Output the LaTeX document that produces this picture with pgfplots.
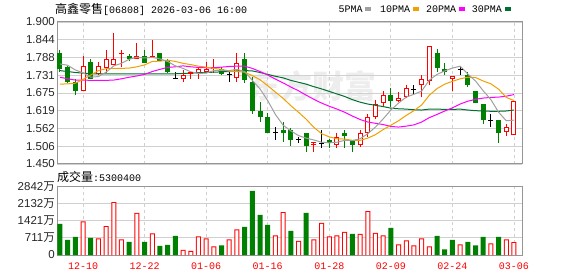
\documentclass[border=0pt]{standalone}
\usepackage{fontspec}
\setmainfont{Liberation Sans}
\newfontfamily\cjk{Noto Sans CJK SC}
\newfontfamily\mono{Liberation Mono}
\usepackage{pgfplots}
\pgfplotsset{compat=1.18}
\usepackage{pgfplotstable}
\definecolor{kred}{RGB}{255,0,0}
\definecolor{kgreen}{RGB}{0,128,0}
\definecolor{maA}{RGB}{160,160,160}
\definecolor{maB}{RGB}{240,160,0}
\definecolor{maC}{RGB}{255,0,255}
\definecolor{maD}{RGB}{0,112,48}
\definecolor{gridc}{RGB}{208,208,208}
\definecolor{framec}{RGB}{150,150,150}

% up candles (close > open), body taller than 2px
\pgfplotstableread{
i o h l c
3 1.682 1.792 1.682 1.760
5 1.734 1.772 1.732 1.760
6 1.753 1.811 1.739 1.782
7 1.763 1.866 1.763 1.783
10 1.784 1.832 1.784 1.792
16 1.720 1.748 1.711 1.731
18 1.737 1.758 1.720 1.750
19 1.743 1.772 1.739 1.751
20 1.750 1.782 1.739 1.758
23 1.721 1.801 1.711 1.771
36 1.510 1.547 1.500 1.537
39 1.510 1.558 1.505 1.547
40 1.549 1.608 1.537 1.598
41 1.600 1.653 1.592 1.640
42 1.642 1.682 1.630 1.669
44 1.651 1.679 1.648 1.659
45 1.661 1.700 1.658 1.690
47 1.701 1.732 1.661 1.718
48 1.714 1.824 1.700 1.824
51 1.719 1.730 1.682 1.730
58 1.550 1.577 1.539 1.566
59 1.541 1.650 1.541 1.650
}\up
% up candles with a very thin body
\pgfplotstableread{
i o h l c
8 1.799 1.811 1.758 1.801
12 1.790 1.843 1.788 1.792
17 1.737 1.743 1.720 1.739
33 1.513 1.517 1.487 1.517
}\upthin
% down candles
\pgfplotstableread{
i o h l c
0 1.801 1.811 1.742 1.752
1 1.758 1.762 1.706 1.711
2 1.710 1.718 1.670 1.682
4 1.773 1.783 1.718 1.720
9 1.792 1.798 1.775 1.784
11 1.792 1.811 1.769 1.771
13 1.801 1.801 1.775 1.777
14 1.775 1.782 1.739 1.743
21 1.750 1.758 1.732 1.735
24 1.782 1.801 1.706 1.716
25 1.709 1.725 1.608 1.619
26 1.619 1.648 1.584 1.600
27 1.598 1.611 1.547 1.549
29 1.558 1.584 1.521 1.549
30 1.558 1.563 1.507 1.526
32 1.547 1.549 1.487 1.507
35 1.526 1.528 1.500 1.518
37 1.547 1.558 1.500 1.539
38 1.524 1.526 1.489 1.510
43 1.669 1.690 1.630 1.651
49 1.803 1.813 1.743 1.753
50 1.750 1.771 1.732 1.743
53 1.732 1.743 1.695 1.700
54 1.682 1.682 1.642 1.642
55 1.640 1.640 1.577 1.589
57 1.589 1.589 1.518 1.549
}\down
% doji candles (open = close)
\pgfplotstableread{
i o h l c
15 1.720 1.743 1.718 1.720
22 1.734 1.743 1.711 1.734
28 1.549 1.568 1.526 1.549
31 1.529 1.537 1.518 1.529
34 1.516 1.558 1.500 1.516
46 1.687 1.699 1.672 1.687
52 1.748 1.761 1.732 1.748
56 1.589 1.608 1.568 1.589
}\doji
% moving averages
\pgfplotstableread{
i m5 m10 m20 m30
0 1.767 1.703 1.725 1.746
1 1.763 1.704 1.720 1.743
2 1.748 1.706 1.716 1.740
3 1.739 1.718 1.716 1.738
4 1.725 1.732 1.715 1.736
5 1.727 1.746 1.715 1.736
6 1.741 1.752 1.715 1.736
7 1.761 1.753 1.716 1.736
8 1.769 1.753 1.720 1.736
9 1.782 1.754 1.725 1.736
10 1.788 1.758 1.729 1.736
11 1.786 1.764 1.734 1.736
12 1.788 1.775 1.743 1.736
13 1.783 1.776 1.750 1.736
14 1.775 1.779 1.756 1.736
15 1.761 1.775 1.758 1.736
16 1.753 1.769 1.761 1.737
17 1.742 1.765 1.758 1.738
18 1.737 1.760 1.756 1.739
19 1.738 1.757 1.755 1.740
20 1.746 1.753 1.755 1.741
21 1.747 1.750 1.757 1.742
22 1.746 1.744 1.759 1.743
23 1.750 1.743 1.760 1.745
24 1.743 1.741 1.760 1.746
25 1.715 1.730 1.753 1.745
26 1.688 1.717 1.743 1.740
27 1.651 1.698 1.732 1.734
28 1.607 1.678 1.719 1.728
29 1.573 1.658 1.707 1.723
30 1.555 1.635 1.694 1.715
31 1.540 1.614 1.682 1.709
32 1.532 1.592 1.668 1.703
33 1.526 1.566 1.655 1.695
34 1.519 1.546 1.643 1.688
35 1.517 1.536 1.633 1.680
36 1.519 1.530 1.624 1.672
37 1.525 1.529 1.614 1.664
38 1.524 1.525 1.602 1.654
39 1.530 1.525 1.591 1.646
40 1.546 1.532 1.583 1.640
41 1.567 1.543 1.579 1.636
42 1.593 1.559 1.575 1.632
43 1.621 1.573 1.569 1.627
44 1.643 1.587 1.567 1.625
45 1.662 1.604 1.570 1.624
46 1.671 1.619 1.574 1.622
47 1.681 1.637 1.583 1.621
48 1.716 1.668 1.597 1.624
49 1.734 1.689 1.607 1.624
50 1.745 1.703 1.618 1.623
51 1.754 1.712 1.628 1.623
52 1.760 1.720 1.640 1.624
53 1.735 1.725 1.649 1.621
54 1.713 1.724 1.655 1.619
55 1.682 1.713 1.659 1.618
56 1.654 1.704 1.661 1.617
57 1.614 1.687 1.662 1.617
58 1.587 1.661 1.665 1.618
59 1.589 1.651 1.670 1.621
}\ma
% volume (10k shares), up days
\pgfplotstableread{
i v
3 1400
5 693
6 1193
7 2191
8 652
10 1747
12 901
16 208
17 166
18 777
19 694
20 362
22 652
23 1068
28 818
29 1775
31 582
33 652
34 1331
35 777
36 818
37 957
39 874
40 1816
41 915
42 818
44 444
45 610
46 402
47 693
48 361
52 444
56 485
58 652
59 530.04
}\vred
% volume, down days
\pgfplotstableread{
i v
0 1290
1 624
2 749
4 707
9 541
11 541
13 374
14 416
15 790
21 403
24 1165
25 2662
26 1664
27 1248
30 998
32 1747
38 874
43 1123
49 790
50 236
51 624
53 541
54 402
55 749
57 749
}\vgreen

\pgfplotsset{
  kbase/.style={
    scale only axis, width=465pt,
    xmin=-0.38, xmax=60.04,
    axis line style={draw=framec, line width=1pt},
    major tick length=0pt,
    xtick={3,11,19,27,35,43,51,59},
    xmajorgrids, ymajorgrids,
    x grid style={gridc, dashed, line width=0.8pt},
    y grid style={gridc, line width=0.8pt},
    yticklabel style={font=\fontsize{11.5}{11.5}\selectfont, anchor=east, inner sep=0pt, xshift=-2pt, text=black!85},
    clip=true,
  },
  wick/.style={draw=none, mark=none, forget plot,
    error bars/.cd, y dir=plus, y explicit, error mark=none,
    error bar style={#1, line width=1pt}},
  body/.style 2 args={draw=none, mark=none, forget plot,
    error bars/.cd, y dir=plus, y explicit, error mark=none,
    error bar style={#1, line width=#2}},
}

\begin{document}
\begin{tikzpicture}[x=1pt,y=1pt]
\useasboundingbox (0,0) rectangle (578,276);
% watermark
\node[text=black!7, font=\cjk\bfseries\fontsize{32}{32}\selectfont, inner sep=0pt] at (312,190) {东方财富};

\begin{axis}[kbase, at={(57pt,112pt)}, anchor=south west, height=142pt,
  ymin=1.45, ymax=1.9,
  ytick={1.45,1.50625,1.5625,1.61875,1.675,1.73125,1.7875,1.84375,1.9},
  yticklabels={1.450,1.506,1.562,1.619,1.675,1.731,1.788,1.844,1.900},
  xticklabels={}]
% green candles
\addplot[wick=kgreen] table[x=i, y=l, y error plus expr=\thisrow{h}-\thisrow{l}]{\down};
\addplot[body={kgreen}{5pt}] table[x=i, y=c, y error plus expr=\thisrow{o}-\thisrow{c}]{\down};
% red candles
\addplot[wick=kred] table[x=i, y=l, y error plus expr=\thisrow{h}-\thisrow{l}]{\up};
\addplot[body={kred}{5pt}] table[x=i, y=o, y error plus expr=\thisrow{c}-\thisrow{o}]{\up};
\addplot[body={white}{3pt}] table[x=i, y expr=\thisrow{o}+0.00317, y error plus expr=\thisrow{c}-\thisrow{o}-0.00634]{\up};
\addplot[wick=kred] table[x=i, y=l, y error plus expr=\thisrow{h}-\thisrow{l}]{\upthin};
\addplot[only marks, mark=-, mark size=2.5pt, kred, mark options={line width=1pt}, forget plot] table[x=i, y=o]{\upthin};
\addplot[only marks, mark=-, mark size=2.5pt, kred, mark options={line width=1pt}, forget plot] table[x=i, y=c]{\upthin};
% doji
\addplot[wick=black] table[x=i, y=l, y error plus expr=\thisrow{h}-\thisrow{l}]{\doji};
\addplot[only marks, mark=-, mark size=2.5pt, black, mark options={line width=1pt}, forget plot] table[x=i, y=o]{\doji};
% moving averages
\addplot[maD, line width=1pt, mark=none] table[x=i, y=m30]{\ma};
\addplot[maC, line width=1pt, mark=none] table[x=i, y=m20]{\ma};
\addplot[maB, line width=1pt, mark=none] table[x=i, y=m10]{\ma};
\addplot[maA, line width=1pt, mark=none] table[x=i, y=m5]{\ma};
\end{axis}

\begin{axis}[kbase, at={(57pt,21pt)}, anchor=south west, height=68.5pt,
  ymin=0, ymax=2842,
  ytick={0,710.5,1421,2131.5,2842},
  yticklabels={0,711{\cjk 万},1421{\cjk 万},2132{\cjk 万},2842{\cjk 万}},
  xticklabels={12-10,12-22,01-06,01-16,01-28,02-09,02-24,03-06},
  xticklabel style={font=\mono\fontsize{10}{10}\selectfont, text=kred, anchor=north, inner sep=0pt, yshift=-7.5pt}]
% up-day volume: red outline drawn as red bar with white inner bar
\addplot[ybar, bar shift=0pt, bar width=5pt, mark=none, draw=none, fill=kred] table[x=i, y=v]{\vred};
\addplot[ybar, bar shift=0pt, bar width=3pt, mark=none, draw=none, fill=white] table[x=i, y expr=\thisrow{v}-41.5]{\vred};
% down-day volume
\addplot[ybar, bar shift=0pt, bar width=5pt, mark=none, draw=none, fill=kgreen] table[x=i, y=v]{\vgreen};
\end{axis}

% title
\node[anchor=west, inner sep=0pt] at (55,267) {{\cjk\fontsize{12}{12}\selectfont 高鑫零售}{\mono\fontsize{10}{10}\selectfont [06808] 2026-03-06 16:00}};
% legend
\node[anchor=west, inner sep=0pt, font=\mono\fontsize{10}{10}\selectfont] at (338.3,267) {5PMA};
\fill[maA] (365,265) rectangle (370.5,269);
\node[anchor=west, inner sep=0pt, font=\mono\fontsize{10}{10}\selectfont] at (380,267) {10PMA};
\fill[maB] (413.3,265) rectangle (419,269);
\node[anchor=west, inner sep=0pt, font=\mono\fontsize{10}{10}\selectfont] at (426,267) {20PMA};
\fill[maC] (459,265) rectangle (464.5,269);
\node[anchor=west, inner sep=0pt, font=\mono\fontsize{10}{10}\selectfont] at (471.7,267) {30PMA};
\fill[maD] (505,265) rectangle (510.7,269);
% volume caption
\node[anchor=west, inner sep=0pt] at (57,99) {{\cjk\fontsize{12}{12}\selectfont 成交量}{\mono\fontsize{10}{10}\selectfont :5300400}};
\end{tikzpicture}
\end{document}
